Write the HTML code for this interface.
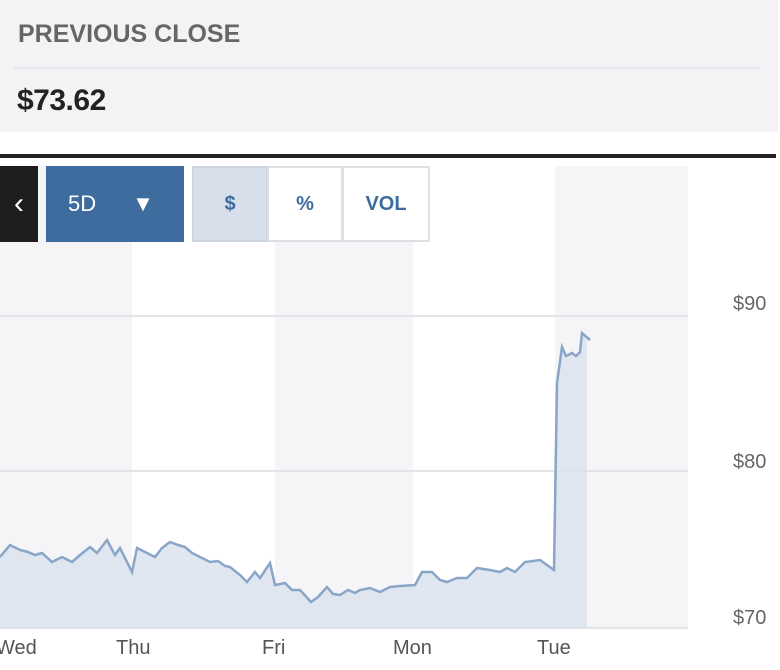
<!DOCTYPE html>
<html><head><style>
body{margin:0;width:780px;height:670px;overflow:hidden;background:#fff;font-family:"Liberation Sans",sans-serif;position:relative}
.top{position:absolute;left:0;top:0;width:778px;height:132px;background:#f3f2f5}
.t1{position:absolute;left:18px;top:20px;font-size:25px;color:#666;font-weight:bold;letter-spacing:0px}
.div{position:absolute;left:14px;top:67px;width:745px;height:2px;background:#e6e5e9}
.t2{position:absolute;left:17px;top:84px;font-size:30px;color:#222;font-weight:bold;letter-spacing:-0.5px}
.bar{position:absolute;left:0;top:154px;width:776px;height:4px;background:#222}
.b{position:absolute;top:166px;height:76px;box-sizing:border-box;display:flex;align-items:center;justify-content:center;font-weight:bold;font-size:20px}
</style></head><body>
<div class="top"><div class="t1">PREVIOUS CLOSE</div><div class="div"></div><div class="t2">$73.62</div></div>
<div class="bar"></div>
<svg style="position:absolute;left:0;top:0" width="780" height="670">
<rect x="0" y="166" width="132" height="462" fill="#f5f5f8"/>
<rect x="275" y="166" width="138" height="462" fill="#f5f5f8"/>
<rect x="555" y="166" width="133" height="462" fill="#f5f5f8"/>
<line x1="0" y1="316" x2="688" y2="316" stroke="#dcdce2" stroke-width="1.5"/>
<line x1="0" y1="471" x2="688" y2="471" stroke="#dcdce2" stroke-width="1.5"/>
<line x1="0" y1="628" x2="688" y2="628" stroke="#dcdce2" stroke-width="1.5"/>
<polygon fill="#dbe3ee" fill-opacity="0.85" points="0,628 0,557 10,545 20,550 28,552 35,555 42,553 52,562 62,557 72,562 80,555 90,547 97,553 107,540 115,555 120,548 132,572 137,548 147,553 155,557 162,548 170,542 178,545 185,547 192,553 200,557 210,562 218,561 225,566 230,567 240,575 247,582 255,572 260,578 270,563 275,585 285,583 292,590 300,590 311,602 318,597 327,587 333,594 340,595 348,590 355,593 360,590 370,588 380,592 390,587 400,586 415,585 422,572 432,572 440,580 447,582 457,578 467,578 477,568 490,570 500,572 507,568 515,572 525,562 540,560 554,570 557,383 562,347 566,356 572,353 576,356 580,352 582,333 587,336 587,628"/>
<polyline fill="none" stroke="#89a5c7" stroke-width="2.5" points="0,557 10,545 20,550 28,552 35,555 42,553 52,562 62,557 72,562 80,555 90,547 97,553 107,540 115,555 120,548 132,572 137,548 147,553 155,557 162,548 170,542 178,545 185,547 192,553 200,557 210,562 218,561 225,566 230,567 240,575 247,582 255,572 260,578 270,563 275,585 285,583 292,590 300,590 311,602 318,597 327,587 333,594 340,595 348,590 355,593 360,590 370,588 380,592 390,587 400,586 415,585 422,572 432,572 440,580 447,582 457,578 467,578 477,568 490,570 500,572 507,568 515,572 525,562 540,560 554,570 557,383 562,347 566,356 572,353 576,356 580,352 582,333 590,340"/>
<g font-size="20" fill="#555" font-family="Liberation Sans,sans-serif">
<text x="-4" y="654">Wed</text><text x="116" y="654">Thu</text><text x="262" y="654">Fri</text><text x="393" y="654">Mon</text><text x="537" y="654">Tue</text>
<text x="733" y="310" fill="#666">$90</text><text x="733" y="468" fill="#666">$80</text><text x="733" y="624" fill="#666">$70</text>
</g>
</svg>
<div class="b" style="left:0;width:38px;background:#1e1e1e;color:#fff;font-weight:normal;font-size:30px">&lsaquo;</div>
<div class="b" style="left:46px;width:138px;background:#3f6c9f;color:#fff;justify-content:flex-start;padding-left:22px;font-weight:normal;font-size:22px">5D<span style="margin-left:36px;font-size:22px">&#9660;</span></div>
<div class="b" style="left:192px;width:76px;background:#d7dfea;border:2px solid #cfd5dd;color:#3f6c9f">$</div>
<div class="b" style="left:267px;width:76px;background:#fff;border:2px solid #dcdfe4;color:#3f6c9f">%</div>
<div class="b" style="left:342px;width:88px;background:#fff;border:2px solid #dcdfe4;color:#3f6c9f">VOL</div>
</body></html>
